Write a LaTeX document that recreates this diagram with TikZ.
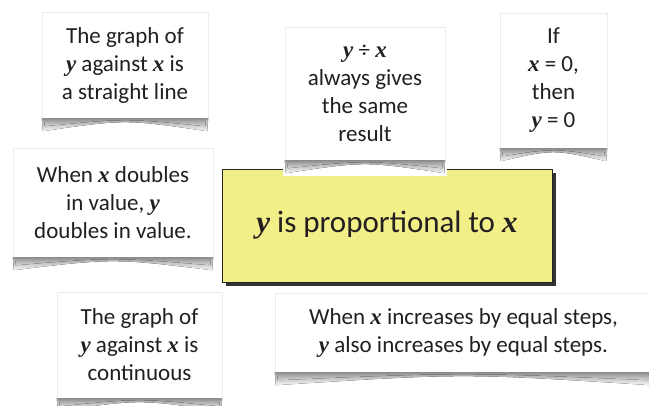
\documentclass[tikz,border=0pt]{standalone}
\usepackage{fontspec}
\setmainfont{Carlito}
\newfontfamily\varfont{Liberation Serif}
\newcommand\vx{{\varfont\bfseries\itshape x}}
\newcommand\vy{{\varfont\bfseries\itshape y}}
\usetikzlibrary{shadows,calc}
\definecolor{ink}{HTML}{231F20}
\definecolor{paleyellow}{HTML}{F2EE88}
\tikzset{
  card/.style={fill=white, draw=black!7, align=center, text=ink,
    font=\fontsize{23}{28}\selectfont, inner sep=0pt},
  mainbox/.style={fill=paleyellow, draw=black!85, line width=0.9pt,
    drop shadow={shadow xshift=4pt, shadow yshift=-4pt, fill=black!80, opacity=1},
    text=ink, font=\fontsize{31}{36}\selectfont, inner sep=0pt},
  curl/.style={top color=black!38, bottom color=black!3, draw=none},
  curlcore/.style={top color=black!45, bottom color=black!15, draw=none}
}
\newcommand\curlshadow[1]{%
  \fill[curl] ($(#1.south west)+(0pt,0pt)$) -- ($(#1.south west)+(1pt,-13pt)$)
    .. controls ($(#1.south)+(0pt,-1pt)$) .. ($(#1.south east)+(-1pt,-13pt)$)
    -- ($(#1.south east)+(0pt,0pt)$) -- cycle;
  \fill[curlcore] ($(#1.south west)+(2pt,0pt)$) -- ($(#1.south west)+(3pt,-8pt)$)
    .. controls ($(#1.south)+(0pt,0pt)$) .. ($(#1.south east)+(-3pt,-8pt)$)
    -- ($(#1.south east)+(-2pt,0pt)$) -- cycle;}
\begin{document}
\begin{tikzpicture}[x=1pt,y=-1pt]
\useasboundingbox (0,0) rectangle (649,405);
\clip (0,0) rectangle (649,405);
\fill[white] (0,0) rectangle (649,405);

% central box
\node[mainbox, minimum width=330pt, minimum height=113pt] (main) at (387,225.5)
  {\vy{} is proportional to \vx};

% card 1
\node[card, minimum width=166pt, minimum height=106pt] (c1) at (125,65)
  {The graph of\\ \vy{} against \vx{} is\\ a straight line};
\curlshadow{c1}

% card 2 (over the central box)
\fill[white] (283,25) rectangle (447,176);
\node[card, minimum width=160pt, minimum height=133pt] (c2) at (365,93.5)
  {\vy{} ÷ \vx\\ always gives\\ the same\\ result};
\curlshadow{c2}

% card 3
\node[card, minimum width=107pt, minimum height=135pt] (c3) at (553.5,80.5)
  {If\\ \vx{} = 0,\\ then\\ \vy{} = 0};
\curlshadow{c3}

% card 4
\node[card, minimum width=200pt, minimum height=109pt] (c4) at (113,202.5)
  {When \vx{} doubles\\ in value, \vy\\ doubles in value.};
\curlshadow{c4}

% card 5
\node[card, minimum width=165pt, minimum height=106pt] (c5) at (139.5,345)
  {The graph of\\ \vy{} against \vx{} is\\ continuous};
\curlshadow{c5}

% card 6
\node[card, minimum width=377pt, minimum height=79pt] (c6) at (463.5,332.5)
  {When \vx{} increases by equal steps,\\ \vy{} also increases by equal steps.};
\curlshadow{c6}
\end{tikzpicture}
\end{document}
